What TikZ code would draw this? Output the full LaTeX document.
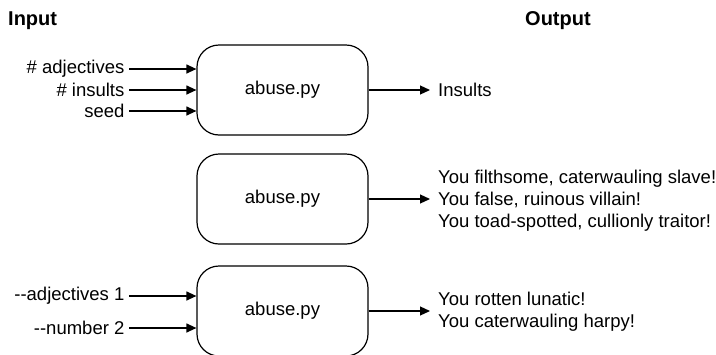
\documentclass[tikz,border=0pt]{standalone}
\usepackage{fontspec}
\setmainfont{Liberation Sans}
\usetikzlibrary{arrows.meta}
\begin{document}
\begin{tikzpicture}[x=1pt,y=-1pt,
    script/.style={draw,line width=1.2pt,rounded corners=22pt,minimum width=171pt,
      minimum height=90pt,font=\fontsize{18.5}{21.8}\selectfont},
    arg/.style={anchor=east,inner sep=4pt,font=\fontsize{18.5}{21.8}\selectfont},
    result/.style={anchor=west,inner sep=8pt,align=left,font=\fontsize{18.5}{21.8}\selectfont},
    flow/.style={line width=1.2pt,-{Triangle[length=10pt,width=9pt]}},
    title/.style={anchor=west,inner sep=0pt,font=\fontsize{20}{24}\selectfont\bfseries}]
    \useasboundingbox (0,0) rectangle (716,354);
    \node[title] (in) at (8,21) {Input};
    \node[title] (out) at (525,21) {Output};
    % default run
    \node[script] (py1) at (282.5,90) {abuse.py};
    \foreach \n/\txt/\y in {a1/\# adjectives/69, a2/\# insults/90, a3/seed/111}
      \draw[flow] (129,\y) node[arg] (\n) {\txt} (\n.east) -- (py1.west |- \n);
    \node[result] (r1) at (430,90) {Insults};
    \draw[flow] (py1.east) -- (r1.west);
    % plain run
    \node[script] (py2) at (282.5,199) {abuse.py};
    \node[result] (r2) at (430,201) {You filthsome, caterwauling slave!\\
      You false, ruinous villain!\\You toad-spotted, cullionly traitor!};
    \draw[flow] (py2.east) -- (py2.east -| r2.west);
    % run with options
    \node[script] (py3) at (282.5,311) {abuse.py};
    \foreach \n/\txt/\y in {b1/-{}-adjectives 1/296, b2/-{}-number 2/328}
      \draw[flow] (129,\y) node[arg] (\n) {\txt} (\n.east) -- (py3.west |- \n);
    \node[result] (r3) at (430,312) {You rotten lunatic!\\You caterwauling harpy!};
    \draw[flow] (py3.east) -- (py3.east -| r3.west);
\end{tikzpicture}
\end{document}
